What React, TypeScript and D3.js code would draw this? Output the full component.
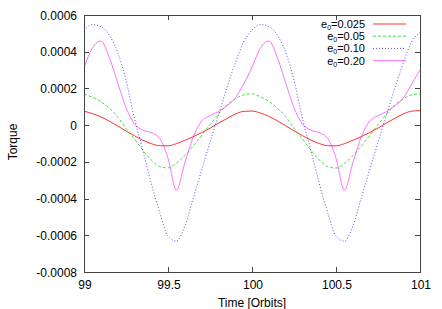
import React, { useEffect, useRef } from "react";
import * as d3 from "d3";

// sample times (orbits)
const times = [
  99.0, 99.05, 99.1, 99.15, 99.2, 99.25, 99.3, 99.35, 99.4, 99.45, 99.5,
  99.55, 99.6, 99.65, 99.7, 99.75, 99.8, 99.85, 99.9, 99.95, 100.0,
  100.05, 100.1, 100.15, 100.2, 100.25, 100.3, 100.35, 100.4, 100.45, 100.5,
  100.55, 100.6, 100.65, 100.7, 100.75, 100.8, 100.85, 100.9, 100.95, 101.0,
];

const torque025 = [
  0.000076, 0.000063, 0.000045, 0.000022, -0.000004, -0.000032, -0.000058, -0.000082, -0.000101, -0.000112, -0.000113,
  -0.000101, -0.000083, -0.000063, -0.000041, -0.000017, 0.000011, 0.000036, 0.00006, 0.000075, 0.000077,
  0.000066, 0.000048, 0.000024, -0.000003, -0.000031, -0.000057, -0.000081, -0.0001, -0.000112, -0.000113,
  -0.000101, -0.000083, -0.000063, -0.00004, -0.000016, 0.000012, 0.000037, 0.000061, 0.000076, 0.000079,
];

const torque05 = [
  0.000169, 0.000152, 0.000128, 0.000093, 0.000046, -0.000018, -0.000075, -0.000136, -0.00019, -0.000226, -0.000233,
  -0.000208, -0.000165, -0.000114, -0.000055, 0.000002, 0.00006, 0.000109, 0.000143, 0.000165, 0.000171,
  0.000154, 0.00013, 0.000094, 0.000047, -0.000017, -0.000074, -0.000135, -0.000189, -0.000226, -0.000234,
  -0.000209, -0.000166, -0.000114, -0.000055, 0.000002, 0.00006, 0.000109, 0.000143, 0.000165, 0.00017,
];

const torque10 = [
  0.000518, 0.000548, 0.000537, 0.000491, 0.000398, 0.000245, 0.000038, -0.000136, -0.000316, -0.000474, -0.000605,
  -0.000632, -0.00055, -0.000398, -0.000245, -0.000093, 0.000055, 0.000202, 0.000338, 0.000452, 0.000518,
  0.000548, 0.000537, 0.000491, 0.000398, 0.000245, 0.000038, -0.000136, -0.000316, -0.000474, -0.000605,
  -0.000632, -0.00055, -0.000398, -0.000245, -0.000093, 0.000055, 0.000202, 0.000338, 0.000452, 0.000505,
];

const torque20 = [
  0.000312, 0.00042, 0.000458, 0.00037, 0.000232, 0.000095, 0.000006, -0.000027, -0.000041, -0.000071, -0.00018,
  -0.000354, -0.000207, -0.000065, 0.000022, 0.000052, 0.000074, 0.000104, 0.000147, 0.000223, 0.000316,
  0.00042, 0.000458, 0.00037, 0.000232, 0.000095, 0.000006, -0.000027, -0.000041, -0.000071, -0.00018,
  -0.000354, -0.000207, -0.000065, 0.000022, 0.000052, 0.000074, 0.000104, 0.000147, 0.000223, 0.0003,
];

const seriesNames = ["0.025", "0.05", "0.10", "0.20"];
const seriesColors = ["#ff0000", "#00d800", "#0000ff", "#ff00ff"];
const seriesDash = [null, "3,2", "1,2", null];
const seriesOpacity = [0.8, 0.75, 0.7, 0.55];

const xTicks = [99, 99.5, 100, 100.5, 101];
const yTicks = [-0.0008, -0.0006, -0.0004, -0.0002, 0, 0.0002, 0.0004, 0.0006];

const W = 442;
const H = 309;
const FONT = "'Liberation Sans', Arial, sans-serif";

const App = () => {
  const ref = useRef(null);

  useEffect(() => {
    const svg = d3.select(ref.current);
    svg.selectAll("*").remove();

    const left = 84, right = 420, top = 15, bottom = 272;
    const x = d3.scaleLinear().domain([99, 101]).range([left, right]);
    const y = d3.scaleLinear().domain([-0.0008, 0.0006]).range([bottom, top]);

    const all = [torque025, torque05, torque10, torque20];

    // curves
    const line = d3
      .line()
      .curve(d3.curveMonotoneX)
      .x((d) => x(d[0]))
      .y((d) => y(d[1]));

    all.forEach((vals, i) => {
      const pts = times.map((t, j) => [t, vals[j]]);
      svg
        .append("path")
        .attr("d", line(pts))
        .attr("fill", "none")
        .attr("stroke", seriesColors[i])
        .attr("stroke-width", 1)
        .attr("stroke-dasharray", seriesDash[i])
        .attr("opacity", seriesOpacity[i]);
    });

    // frame
    svg
      .append("rect")
      .attr("x", left + 0.5)
      .attr("y", top + 0.5)
      .attr("width", right - left)
      .attr("height", bottom - top)
      .attr("fill", "none")
      .attr("stroke", "#444");

    // ticks (inward, mirrored)
    const tickLen = 5;
    xTicks.forEach((t) => {
      const px = Math.round(x(t)) + 0.5;
      svg.append("line").attr("x1", px).attr("x2", px)
        .attr("y1", bottom).attr("y2", bottom - tickLen).attr("stroke", "#444");
      svg.append("line").attr("x1", px).attr("x2", px)
        .attr("y1", top).attr("y2", top + tickLen).attr("stroke", "#444");
      svg.append("text")
        .text(t)
        .attr("x", x(t) + 1)
        .attr("y", 289)
        .attr("text-anchor", "middle")
        .attr("font-family", FONT)
        .attr("font-size", "12px")
        .attr("fill", "#000");
    });

    yTicks.forEach((v) => {
      const py = Math.round(y(v)) + 0.5;
      svg.append("line").attr("x1", left).attr("x2", left + tickLen)
        .attr("y1", py).attr("y2", py).attr("stroke", "#444");
      svg.append("line").attr("x1", right).attr("x2", right - tickLen)
        .attr("y1", py).attr("y2", py).attr("stroke", "#444");
      svg.append("text")
        .text(v === 0 ? "0" : v.toFixed(4))
        .attr("x", 77)
        .attr("y", y(v) + 4.5)
        .attr("text-anchor", "end")
        .attr("font-family", FONT)
        .attr("font-size", "12px")
        .attr("fill", "#000");
    });

    // axis titles
    svg.append("text")
      .text("Time [Orbits]")
      .attr("x", 252)
      .attr("y", 307)
      .attr("text-anchor", "middle")
      .attr("font-family", FONT)
      .attr("font-size", "12px");

    svg.append("text")
      .text("Torque")
      .attr("transform", `translate(17, 142) rotate(-90)`)
      .attr("text-anchor", "middle")
      .attr("font-family", FONT)
      .attr("font-size", "12px");

    // legend
    const rowY = [24, 36.2, 48.4, 60.6];
    seriesNames.forEach((name, i) => {
      const txt = svg.append("text")
        .attr("x", 365)
        .attr("y", rowY[i] + 4)
        .attr("text-anchor", "end")
        .attr("font-family", FONT)
        .attr("font-size", "11px");
      txt.append("tspan").text("e");
      txt.append("tspan").text("0").attr("font-size", "7px").attr("dy", 2);
      txt.append("tspan").text("=" + name).attr("dy", -2);

      svg.append("line")
        .attr("x1", 373)
        .attr("x2", 406)
        .attr("y1", rowY[i])
        .attr("y2", rowY[i])
        .attr("stroke", seriesColors[i])
        .attr("stroke-dasharray", seriesDash[i])
        .attr("opacity", seriesOpacity[i]);
    });
  });

  return (
    <svg
      ref={ref}
      width={W}
      height={H}
      style={{ position: "absolute", left: 0, top: 0, background: "#fff" }}
    ></svg>
  );
};

export default App;
